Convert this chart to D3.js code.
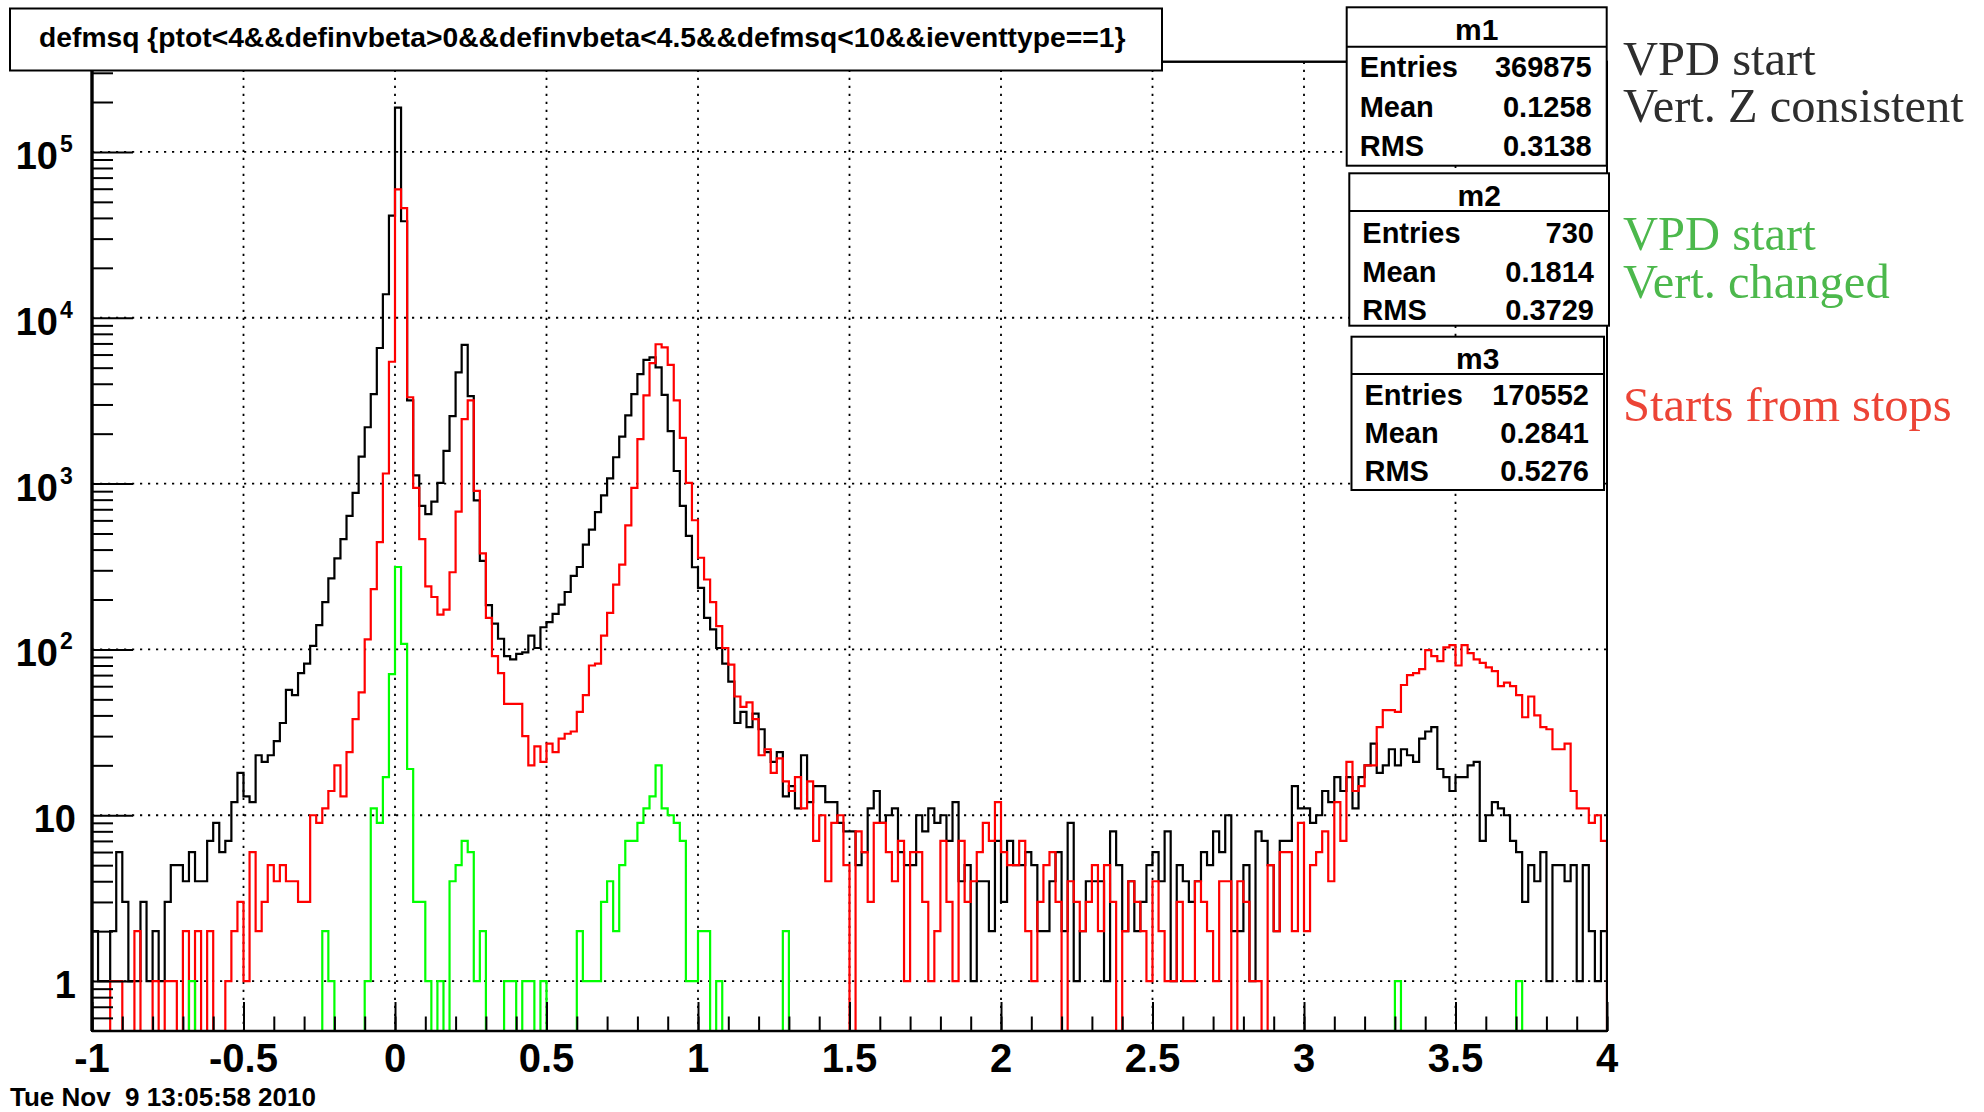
<!DOCTYPE html>
<html>
<head>
<meta charset="utf-8">
<script src="https://cdn.jsdelivr.net/npm/d3@7"></script>
<style>
  body { margin: 0; background: #fff; }
  svg { display: block; }
  .bold { font-family: "Liberation Sans", Arial, sans-serif; font-weight: bold; }
  .serif { font-family: "Liberation Serif", "Times New Roman", serif; }
</style>
</head>
<body>
<div id="chart"></div>
<script>
'use strict';

// histogram binning: 250 bins of 0.02 from -1 to 4
const binLow = -1;
const binWidth = 0.02;

// m1 (black): VPD start, vertex Z consistent
const m1Counts = [
  2, 1, 1, 2, 6, 3, 1, 1, 3, 1, 2, 1, 3, 5, 5, 4, 6, 4, 4, 7,
  9, 6, 7, 12, 18, 13, 12, 23, 21, 23, 28, 36, 57, 53, 72, 82, 105, 140, 193, 268,
  354, 463, 638, 880, 1455, 2186, 3460, 6570, 13860, 41300, 185000, 38200, 3175, 1122, 733, 655, 779, 1010, 1573, 2555,
  4690, 6870, 3370, 793, 342, 185, 143, 116, 91, 87, 94, 96, 121, 102, 136, 146, 164, 186, 222, 278,
  314, 428, 527, 672, 850, 1074, 1442, 1920, 2576, 3460, 4570, 5575, 5770, 5020, 3430, 2074, 1191, 733, 484, 313,
  235, 155, 132, 102, 82, 64, 36, 42, 34, 41, 33, 24, 21, 24, 13, 15, 11, 23, 12, 15,
  15, 12, 12, 9, 8, 8, 5, 6, 11, 14, 9, 10, 11, 6, 5, 5, 10, 8, 11, 9,
  10, 7, 12, 4, 5, 1, 4, 4, 2, 7, 3, 7, 5, 5, 6, 5, 2, 2, 4, 6,
  2, 9, 1, 2, 4, 4, 4, 1, 8, 5, 2, 4, 2, 3, 5, 6, 4, 8, 1, 5,
  4, 3, 4, 6, 5, 8, 6, 10, 2, 2, 5, 1, 8, 7, 5, 2, 7, 7, 15, 11,
  11, 9, 10, 14, 12, 17, 14, 17, 11, 17, 20, 27, 18, 20, 25, 20, 25, 23, 21, 29,
  32, 34, 19, 17, 14, 17, 17, 20, 21, 7, 10, 12, 11, 10, 7, 6, 3, 5, 4, 6,
  1, 5, 5, 4, 5, 1, 5, 2, 1, 2
];

// m3 (red): starts from stops
const m3Counts = [
  0, 0, 0, 1, 1, 0, 0, 2, 0, 0, 1, 0, 1, 1, 0, 2, 0, 2, 0, 2,
  0, 0, 1, 2, 3, 1, 6, 2, 3, 5, 4, 5, 4, 4, 3, 3, 10, 9, 11, 14,
  20, 13, 24, 38, 55, 115, 231, 443, 1150, 5430, 59400, 45800, 3315, 943, 463, 240, 207, 162, 174, 292,
  678, 2448, 3175, 903, 379, 155, 91, 72, 47, 47, 47, 30, 20, 26, 21, 27, 24, 29, 31, 32,
  42, 53, 80, 82, 121, 166, 246, 325, 560, 943, 1855, 3400, 5330, 6920, 6630, 5200, 3175, 1888, 1010, 601,
  357, 264, 193, 138, 102, 81, 52, 45, 48, 38, 23, 25, 18, 22, 16, 14, 17, 11, 16, 7,
  10, 4, 9, 10, 5, 0, 8, 6, 3, 9, 9, 6, 4, 7, 1, 6, 6, 3, 1, 2,
  7, 3, 1, 7, 3, 4, 6, 9, 7, 12, 6, 5, 5, 7, 2, 1, 3, 5, 6, 3,
  0, 4, 3, 2, 3, 5, 2, 5, 3, 0, 2, 4, 3, 2, 1, 4, 2, 1, 1, 3,
  1, 1, 4, 3, 2, 1, 4, 4, 0, 4, 3, 1, 1, 0, 5, 2, 6, 6, 2, 9,
  2, 5, 6, 8, 4, 12, 7, 21, 14, 15, 20, 20, 34, 43, 43, 42, 61, 70, 72, 76,
  99, 91, 85, 103, 106, 80, 106, 95, 87, 83, 78, 74, 60, 63, 60, 53, 39, 52, 40, 34,
  33, 25, 25, 27, 14, 11, 11, 9, 10, 7
];

// m2 (green): VPD start, vertex changed
const m2Counts = [
  0, 0, 0, 0, 0, 0, 0, 0, 0, 0, 0, 0, 0, 0, 0, 0, 1, 0, 0, 0,
  0, 0, 0, 0, 0, 0, 0, 0, 0, 0, 0, 0, 0, 0, 0, 0, 0, 0, 2, 1,
  0, 0, 0, 0, 0, 1, 11, 9, 17, 71, 314, 108, 19, 3, 3, 1, 0, 1, 0, 4,
  5, 7, 6, 1, 2, 0, 0, 0, 1, 1, 0, 1, 1, 0, 1, 0, 0, 0, 0, 0,
  2, 1, 1, 1, 3, 4, 2, 5, 7, 7, 9, 11, 13, 20, 11, 10, 9, 7, 1, 1,
  2, 2, 0, 1, 0, 0, 0, 0, 0, 0, 0, 0, 0, 0, 2, 0, 0, 0, 0, 0,
  0, 0, 0, 0, 0, 0, 0, 0, 0, 0, 0, 0, 0, 0, 0, 0, 0, 0, 0, 0,
  0, 0, 0, 0, 0, 0, 0, 0, 0, 0, 0, 0, 0, 0, 0, 0, 0, 0, 0, 0,
  0, 0, 0, 0, 0, 0, 0, 0, 0, 0, 0, 0, 0, 0, 0, 0, 0, 0, 0, 0,
  0, 0, 0, 0, 0, 0, 0, 0, 0, 0, 0, 0, 0, 0, 0, 0, 0, 0, 0, 0,
  0, 0, 0, 0, 0, 0, 0, 0, 0, 0, 0, 0, 0, 0, 0, 1, 0, 0, 0, 0,
  0, 0, 0, 0, 0, 0, 0, 0, 0, 0, 0, 0, 0, 0, 0, 1, 0, 0, 0, 0,
  0, 0, 0, 0, 0, 0, 0, 0, 0, 0
];

// stats boxes
const statNames = ["m1", "m2", "m3"];
const statEntries = ["369875", "730", "170552"];
const statMeans = ["0.1258", "0.1814", "0.2841"];
const statRms = ["0.3138", "0.3729", "0.5276"];

// notes on the right of the stats boxes
const noteLines = [["VPD start", "Vert. Z consistent"], ["VPD start", "Vert. changed"], ["Starts from stops"]];

const titleText = "defmsq {ptot<4&&definvbeta>0&&definvbeta<4.5&&defmsq<10&&ieventtype==1}";
const dateText = "Tue Nov  9 13:05:58 2010";

const xTickLabels = ["-1", "-0.5", "0", "0.5", "1", "1.5", "2", "2.5", "3", "3.5", "4"];
const yTickValues = [1, 10, 100, 1000, 10000, 100000];
const yTickExponents = ["", "", "2", "3", "4", "5"];

// ---------- layout ----------
const width = 1984, height = 1112;
const frame = { left: 92, right: 1607, top: 61.7, bottom: 1031 };

const svg = d3.select("#chart")
    .append("svg")
    .attr("width", width)
    .attr("height", height);

svg.append("rect").attr("width", width).attr("height", height).attr("fill", "#fff");

const xScale = d3.scaleLinear()
    .domain([-1, 4])
    .range([frame.left, frame.right]);
const yScale = d3.scaleLog()
    .domain([0.5, 3.5e5])
    .range([frame.bottom, frame.top]);

// grid lines (dotted)
const grid = svg.append("g").attr("stroke", "#000").attr("stroke-width", 1.8)
    .attr("stroke-dasharray", "2.2,5.8");
grid.selectAll(".vgrid")
    .data(xTickLabels.slice(1, -1))
    .enter().append("line")
    .attr("x1", d => xScale(+d)).attr("x2", d => xScale(+d))
    .attr("y1", frame.top).attr("y2", frame.bottom);
grid.selectAll(".hgrid")
    .data(yTickValues)
    .enter().append("line")
    .attr("x1", frame.left).attr("x2", frame.right)
    .attr("y1", d => yScale(d)).attr("y2", d => yScale(d));

// histograms
svg.append("clipPath").attr("id", "frameClip")
    .append("rect")
    .attr("x", frame.left).attr("y", frame.top)
    .attr("width", frame.right - frame.left).attr("height", frame.bottom - frame.top);

// outline of a histogram; empty bins drop to the bottom of the log frame
function stepPoints(counts) {
    let pts = [[xScale(binLow), frame.bottom]];
    counts.forEach((c, i) => {
        let y = c > 0 ? yScale(c) : frame.bottom;
        pts.push([xScale(binLow + i * binWidth), y]);
        pts.push([xScale(binLow + (i + 1) * binWidth), y]);
    });
    pts.push([xScale(binLow + counts.length * binWidth), frame.bottom]);
    return pts;
}

const line = d3.line();
const histGroup = svg.append("g").attr("clip-path", "url(#frameClip)");
[[m1Counts, "#000000"], [m3Counts, "#ff0000"], [m2Counts, "#00ff00"]].forEach(h => {
    histGroup.append("path")
        .attr("d", line(stepPoints(h[0])))
        .attr("fill", "none")
        .attr("stroke", h[1])
        .attr("stroke-width", 2.2);
});

// frame
svg.append("rect")
    .attr("x", frame.left).attr("y", frame.top)
    .attr("width", frame.right - frame.left).attr("height", frame.bottom - frame.top)
    .attr("fill", "none").attr("stroke", "#000").attr("stroke-width", 2);
svg.append("line")
    .attr("x1", frame.left).attr("x2", frame.left)
    .attr("y1", frame.top).attr("y2", frame.bottom)
    .attr("stroke", "#000").attr("stroke-width", 3.4);
svg.append("line")
    .attr("x1", frame.left).attr("x2", frame.right)
    .attr("y1", frame.bottom).attr("y2", frame.bottom)
    .attr("stroke", "#000").attr("stroke-width", 2.6);

// x axis: ticks drawn by d3, labels placed by hand for ROOT look
const xMajor = d3.axisBottom(xScale).tickValues(xTickLabels.map(Number))
    .tickSize(-29).tickFormat("");
const xMinor = d3.axisBottom(xScale).tickValues(d3.range(-10, 41).map(k => k / 10))
    .tickSize(-14.5).tickFormat("");
[xMajor, xMinor].forEach(ax => {
    let g = svg.append("g").attr("transform", "translate(0," + frame.bottom + ")").call(ax);
    g.select(".domain").remove();
    g.selectAll("line").attr("stroke", "#000").attr("stroke-width", 2);
});
svg.selectAll(".xlab")
    .data(xTickLabels)
    .enter().append("text")
    .attr("class", "bold")
    .attr("x", d => xScale(+d))
    .attr("y", 1072)
    .attr("text-anchor", "middle")
    .attr("font-size", 40)
    .text(d => d);

// y axis (log): major and minor ticks
let minorVals = [];
[-1, 0, 1, 2, 3, 4, 5].forEach(e => {
    for (let m = 2; m <= 9; m++) {
        let v = m * Math.pow(10, e);
        if (v > 0.5 && v < 3.5e5) minorVals.push(v);
    }
});
const yMajor = d3.axisLeft(yScale).tickValues(yTickValues).tickSize(-41).tickFormat("");
const yMinor = d3.axisLeft(yScale).tickValues(minorVals).tickSize(-21).tickFormat("");
[yMajor, yMinor].forEach(ax => {
    let g = svg.append("g").attr("transform", "translate(" + frame.left + ",0)").call(ax);
    g.select(".domain").remove();
    g.selectAll("line").attr("stroke", "#000").attr("stroke-width", 2);
});
yTickValues.forEach((v, i) => {
    let y = yScale(v);
    if (yTickExponents[i] === "") {
        svg.append("text").attr("class", "bold")
            .attr("x", 76).attr("y", y + 17)
            .attr("text-anchor", "end").attr("font-size", 38)
            .text(String(v));
    } else {
        svg.append("text").attr("class", "bold")
            .attr("x", 58).attr("y", y + 17)
            .attr("text-anchor", "end").attr("font-size", 38)
            .text("10");
        svg.append("text").attr("class", "bold")
            .attr("x", 60).attr("y", y)
            .attr("font-size", 23)
            .text(yTickExponents[i]);
    }
});

// title box
svg.append("rect")
    .attr("x", 10).attr("y", 8.5).attr("width", 1152).attr("height", 62)
    .attr("fill", "#fff").attr("stroke", "#000").attr("stroke-width", 2);
let title = svg.append("text").attr("class", "bold")
    .attr("x", 39).attr("y", 47)
    .attr("font-size", 26)
    .text(titleText);
let tw = title.node().getComputedTextLength();
title.attr("font-size", 26 * 1087 / tw);

// stats boxes
const boxes = [
    { x: 1346.7, y: 7.3, w: 260, h: 158.4, head: 39.4 },
    { x: 1349.3, y: 173.3, w: 259.7, h: 152.4, head: 37.7 },
    { x: 1351.5, y: 336.7, w: 252.5, h: 153.3, head: 37.3 }
];
const rowBase = [[77, 117, 156], [243, 282, 320], [405, 443, 481]];
const headBase = [40, 206, 369];
statNames.forEach((name, i) => {
    let b = boxes[i];
    let g = svg.append("g");
    g.append("rect")
        .attr("x", b.x).attr("y", b.y).attr("width", b.w).attr("height", b.h)
        .attr("fill", "#fff").attr("stroke", "#000").attr("stroke-width", 2);
    g.append("line")
        .attr("x1", b.x).attr("x2", b.x + b.w)
        .attr("y1", b.y + b.head).attr("y2", b.y + b.head)
        .attr("stroke", "#000").attr("stroke-width", 2);
    g.append("text").attr("class", "bold")
        .attr("x", b.x + b.w / 2).attr("y", headBase[i])
        .attr("text-anchor", "middle").attr("font-size", 30)
        .text(name);
    let rows = [["Entries", statEntries[i]], ["Mean", statMeans[i]], ["RMS", statRms[i]]];
    rows.forEach((r, k) => {
        g.append("text").attr("class", "bold")
            .attr("x", b.x + 13).attr("y", rowBase[i][k])
            .attr("font-size", 29).text(r[0]);
        g.append("text").attr("class", "bold")
            .attr("x", b.x + b.w - 15).attr("y", rowBase[i][k])
            .attr("text-anchor", "end").attr("font-size", 29).text(r[1]);
    });
});
// frame top stays visible between title box and first stats box
svg.append("line")
    .attr("x1", 1162).attr("x2", 1346.7)
    .attr("y1", frame.top).attr("y2", frame.top)
    .attr("stroke", "#000").attr("stroke-width", 2);

// notes on the right
const noteColors = ["#2e2e2e", "#4cb84c", "#ec4436"];
const noteBase = [[75, 122], [250, 298], [421]];
noteLines.forEach((lines, i) => {
    lines.forEach((t, k) => {
        svg.append("text").attr("class", "serif")
            .attr("x", 1623).attr("y", noteBase[i][k])
            .attr("font-size", 48.5)
            .attr("fill", noteColors[i])
            .text(t);
    });
});

// date stamp
svg.append("text").attr("class", "bold")
    .attr("x", 10).attr("y", 1106)
    .attr("font-size", 26)
    .style("white-space", "pre")
    .text(dateText);
</script>
</body>
</html>
